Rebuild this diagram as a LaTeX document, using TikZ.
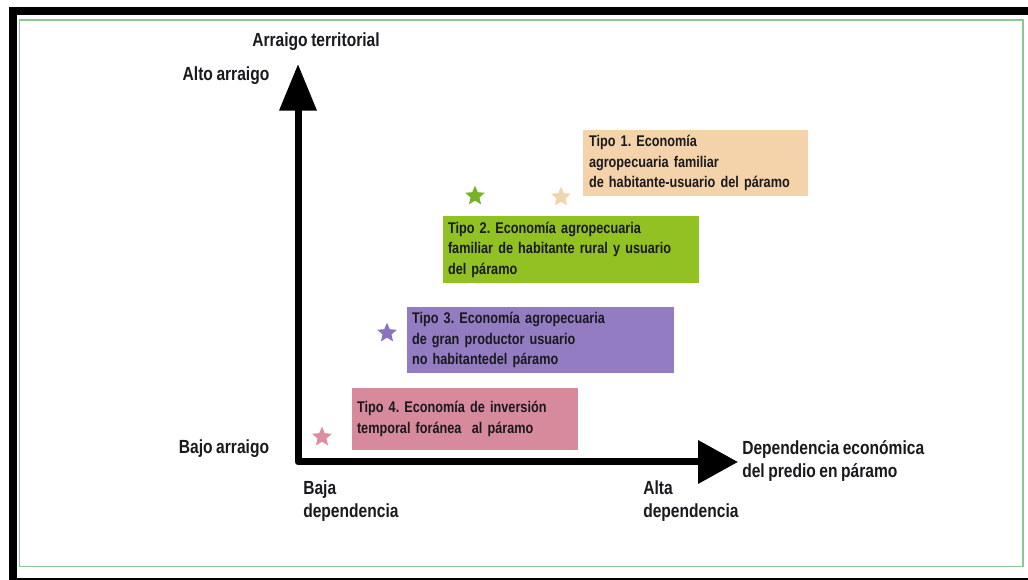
\documentclass[tikz,border=0pt]{standalone}
\usepackage{fontspec}
\newfontfamily\labfont{Liberation Sans}[FakeStretch=0.82,WordSpace=0.82]
\usetikzlibrary{shapes.geometric,arrows.meta}
\definecolor{framegreen}{RGB}{140,200,150}
\definecolor{txt}{RGB}{25,25,30}
\definecolor{tanbox}{RGB}{245,211,170}
\definecolor{tanstar}{RGB}{242,212,172}
\definecolor{greenbox}{RGB}{145,193,35}
\definecolor{greenstar}{RGB}{118,178,40}
\definecolor{purplebox}{RGB}{148,124,194}
\definecolor{purplestar}{RGB}{140,115,190}
\definecolor{pinkbox}{RGB}{214,138,156}
\definecolor{pinkstar}{RGB}{222,140,162}
\tikzset{
  axlabel/.style={font=\labfont\bfseries\frenchspacing\fontsize{14.25}{17.25}\selectfont, text=txt, inner sep=0pt, align=left},
  tipobox/.style={font=\labfont\bfseries\frenchspacing\fontsize{11.6}{15.4}\selectfont, text=txt, inner xsep=3.75pt, inner ysep=0pt, align=left, anchor=center},
  estrella/.style={star, star points=5, star point ratio=2.2, minimum size=15.5pt, inner sep=0pt, draw=none},
  eje/.style={line width=5.25pt, line join=round, draw=black}
}
\begin{document}
\begin{tikzpicture}[x=0.75pt,y=-0.75pt]
\useasboundingbox (0,0) rectangle (1028,580);
% frames
\draw[line width=6pt, black] (13,11) rectangle (1045,582);
\draw[line width=1.4pt, framegreen] (19.5,20) rectangle (1023,566.5);

% axes
\coordinate (O) at (298,462);
\coordinate (Ytip) at (298,64);
\coordinate (Xtip) at (738,462);
\draw[eje, {Triangle[length=35pt,width=27pt]}-{Triangle[length=30pt,width=31.5pt]}] (Ytip) -- (O) -- (Xtip);

% axis labels
\node[axlabel] (ytitle) at (316,42) {Arraigo territorial};
\node[axlabel] (alto) at (226,76) {Alto arraigo};
\node[axlabel] (bajo) at (224,449) {Bajo arraigo};
\node[axlabel, anchor=west] (baja) at (303,501.5) {Baja\\dependencia};
\node[axlabel, anchor=west] (alta) at (643,501.5) {Alta\\dependencia};
\node[axlabel, anchor=west] (xtitle) at (742,461) {Dependencia económica\\del predio en páramo};

% boxes
\node[tipobox, fill=tanbox, minimum height=49.5pt, text width=168.75pt-9pt, inner xsep=4.5pt] (t1) at (695.5,163)
  {Tipo 1. Economía\\agropecuaria familiar\\de habitante-usuario del páramo};
\node[tipobox, fill=greenbox, minimum height=50.25pt, text width=192pt-7.5pt] (t2) at (571,249.5)
  {Tipo 2. Economía agropecuaria\\familiar de habitante rural y usuario\\del páramo};
\node[tipobox, fill=purplebox, minimum height=49.5pt, text width=200.25pt-7.5pt] (t3) at (540.5,340)
  {Tipo 3. Economía agropecuaria\\de gran productor usuario\\no habitantedel páramo};
\node[tipobox, fill=pinkbox, minimum height=46.5pt, text width=169.5pt-7.5pt] (t4) at (465,419)
  {Tipo 4. Economía de inversión\\temporal foránea\ \ al páramo};

% stars
\node[estrella, fill=greenstar] (s2) at (475,196) {};
\node[estrella, fill=tanstar] (s1) at (561,197) {};
\node[estrella, fill=purplestar] (s3) at (387,333) {};
\node[estrella, fill=pinkstar] (s4) at (322,437) {};
\end{tikzpicture}
\end{document}
